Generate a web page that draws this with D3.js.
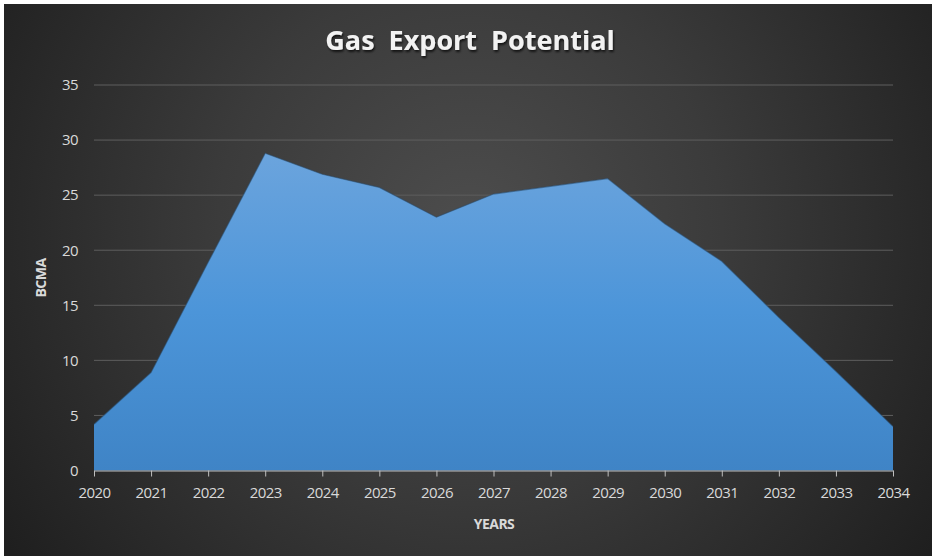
<!DOCTYPE html>
<html>
<head>
<meta charset="utf-8">
<script src="https://cdn.jsdelivr.net/npm/d3@7"></script>
<style>
  html, body { margin: 0; padding: 0; background: #ffffff; }
  svg { display: block; }
</style>
</head>
<body>
<svg id="chart" width="932" height="556"></svg>
<script>
// Annual gas export potential, billion cubic metres per annum
const years = ["2020","2021","2022","2023","2024","2025","2026","2027","2028","2029","2030","2031","2032","2033","2034"];
const exportPotential = [4.2, 8.9, 18.9, 28.8, 26.9, 25.7, 23.0, 25.1, 25.8, 26.5, 22.4, 19.0, 13.9, 9.0, 4.0];
const yTicks = [0, 5, 10, 15, 20, 25, 30, 35];

const W = 932, H = 556;
const margin = { left: 94, right: 39, top: 85, bottom: 85.5 };
const svg = d3.select("#chart");
const defs = svg.append("defs");

// Background: dark panel with a soft light spot behind the plot
const bg = defs.append("radialGradient").attr("id", "bgGrad")
  .attr("gradientUnits", "userSpaceOnUse")
  .attr("cx", 470).attr("cy", 230).attr("r", 560);
bg.append("stop").attr("offset", "0%").attr("stop-color", "#4d4d4d");
bg.append("stop").attr("offset", "45%").attr("stop-color", "#3b3b3b");
bg.append("stop").attr("offset", "100%").attr("stop-color", "#1f1f1f");

const fillGrad = defs.append("linearGradient").attr("id", "areaGrad")
  .attr("x1", 0).attr("y1", 0).attr("x2", 0).attr("y2", 1);
fillGrad.append("stop").attr("offset", "0%").attr("stop-color", "#6ba4dd");
fillGrad.append("stop").attr("offset", "50%").attr("stop-color", "#4c95d9");
fillGrad.append("stop").attr("offset", "100%").attr("stop-color", "#3f84c6");

const shadow = defs.append("filter").attr("id", "titleShadow")
  .attr("x", "-10%").attr("y", "-30%").attr("width", "120%").attr("height", "160%");
shadow.append("feDropShadow").attr("dx", 1).attr("dy", 2).attr("stdDeviation", 1.2)
  .attr("flood-color", "#000").attr("flood-opacity", 0.7);

svg.append("rect").attr("x", 4).attr("y", 4).attr("width", W - 4).attr("height", H - 4)
  .attr("fill", "url(#bgGrad)");

const x = d3.scalePoint().domain(years).range([margin.left, W - margin.right]);
const y = d3.scaleLinear().domain([0, 35]).range([H - margin.bottom, margin.top]);

// Horizontal gridlines
svg.append("g")
  .selectAll("line").data(yTicks.filter(d => d > 0)).join("line")
  .attr("x1", margin.left).attr("x2", W - margin.right)
  .attr("y1", d => y(d)).attr("y2", d => y(d))
  .attr("stroke", "#5e5e5e").attr("stroke-width", 1);

// Area
const data = years.map((yr, i) => ({ yr, v: exportPotential[i] }));
const area = d3.area().x(d => x(d.yr)).y0(y(0)).y1(d => y(d.v));
const line = d3.line().x(d => x(d.yr)).y(d => y(d.v));

svg.append("path").datum(data).attr("d", area).attr("fill", "url(#areaGrad)");
svg.append("path").datum(data).attr("d", line)
  .attr("fill", "none").attr("stroke", "#2a4a6a").attr("stroke-width", 1.2).attr("stroke-opacity", 0.55);

// X axis
const xAxis = svg.append("g").attr("transform", `translate(0,${y(0)})`)
  .call(d3.axisBottom(x).tickSize(6).tickSizeOuter(0).tickPadding(11));
xAxis.select(".domain").attr("stroke", "#bfbfbf").attr("stroke-width", 1);
xAxis.selectAll(".tick line").attr("stroke", "#bfbfbf");
xAxis.selectAll(".tick text")
  .attr("fill", "#d9d9d9").attr("font-family", "'Open Sans', sans-serif").attr("font-size", 15)
  .attr("letter-spacing", -0.6);

// Y axis labels
const yAxis = svg.append("g").attr("transform", `translate(${margin.left},0)`)
  .call(d3.axisLeft(y).tickValues(yTicks).tickSize(0).tickPadding(16));
yAxis.select(".domain").remove();
yAxis.selectAll(".tick text")
  .attr("fill", "#d9d9d9").attr("font-family", "'Open Sans', sans-serif").attr("font-size", 15)
  .attr("letter-spacing", -0.6);

// Title
svg.append("text").attr("x", 470).attr("y", 50).attr("text-anchor", "middle")
  .attr("fill", "#f2f2f2").attr("font-family", "'Open Sans', sans-serif")
  .attr("font-weight", "bold").attr("font-size", 27).attr("word-spacing", 7)
  .attr("filter", "url(#titleShadow)")
  .text("Gas Export Potential");

// Axis titles
svg.append("text").attr("x", 494).attr("y", 529).attr("text-anchor", "middle")
  .attr("fill", "#d9d9d9").attr("font-family", "'Open Sans', sans-serif")
  .attr("font-weight", "bold").attr("font-size", 14).attr("letter-spacing", -0.5)
  .text("YEARS");

svg.append("text").attr("transform", "translate(46,278) rotate(-90)").attr("text-anchor", "middle")
  .attr("fill", "#d9d9d9").attr("font-family", "'Open Sans', sans-serif")
  .attr("font-weight", "bold").attr("font-size", 14).attr("letter-spacing", -0.5)
  .text("BCMA");
</script>
</body>
</html>
